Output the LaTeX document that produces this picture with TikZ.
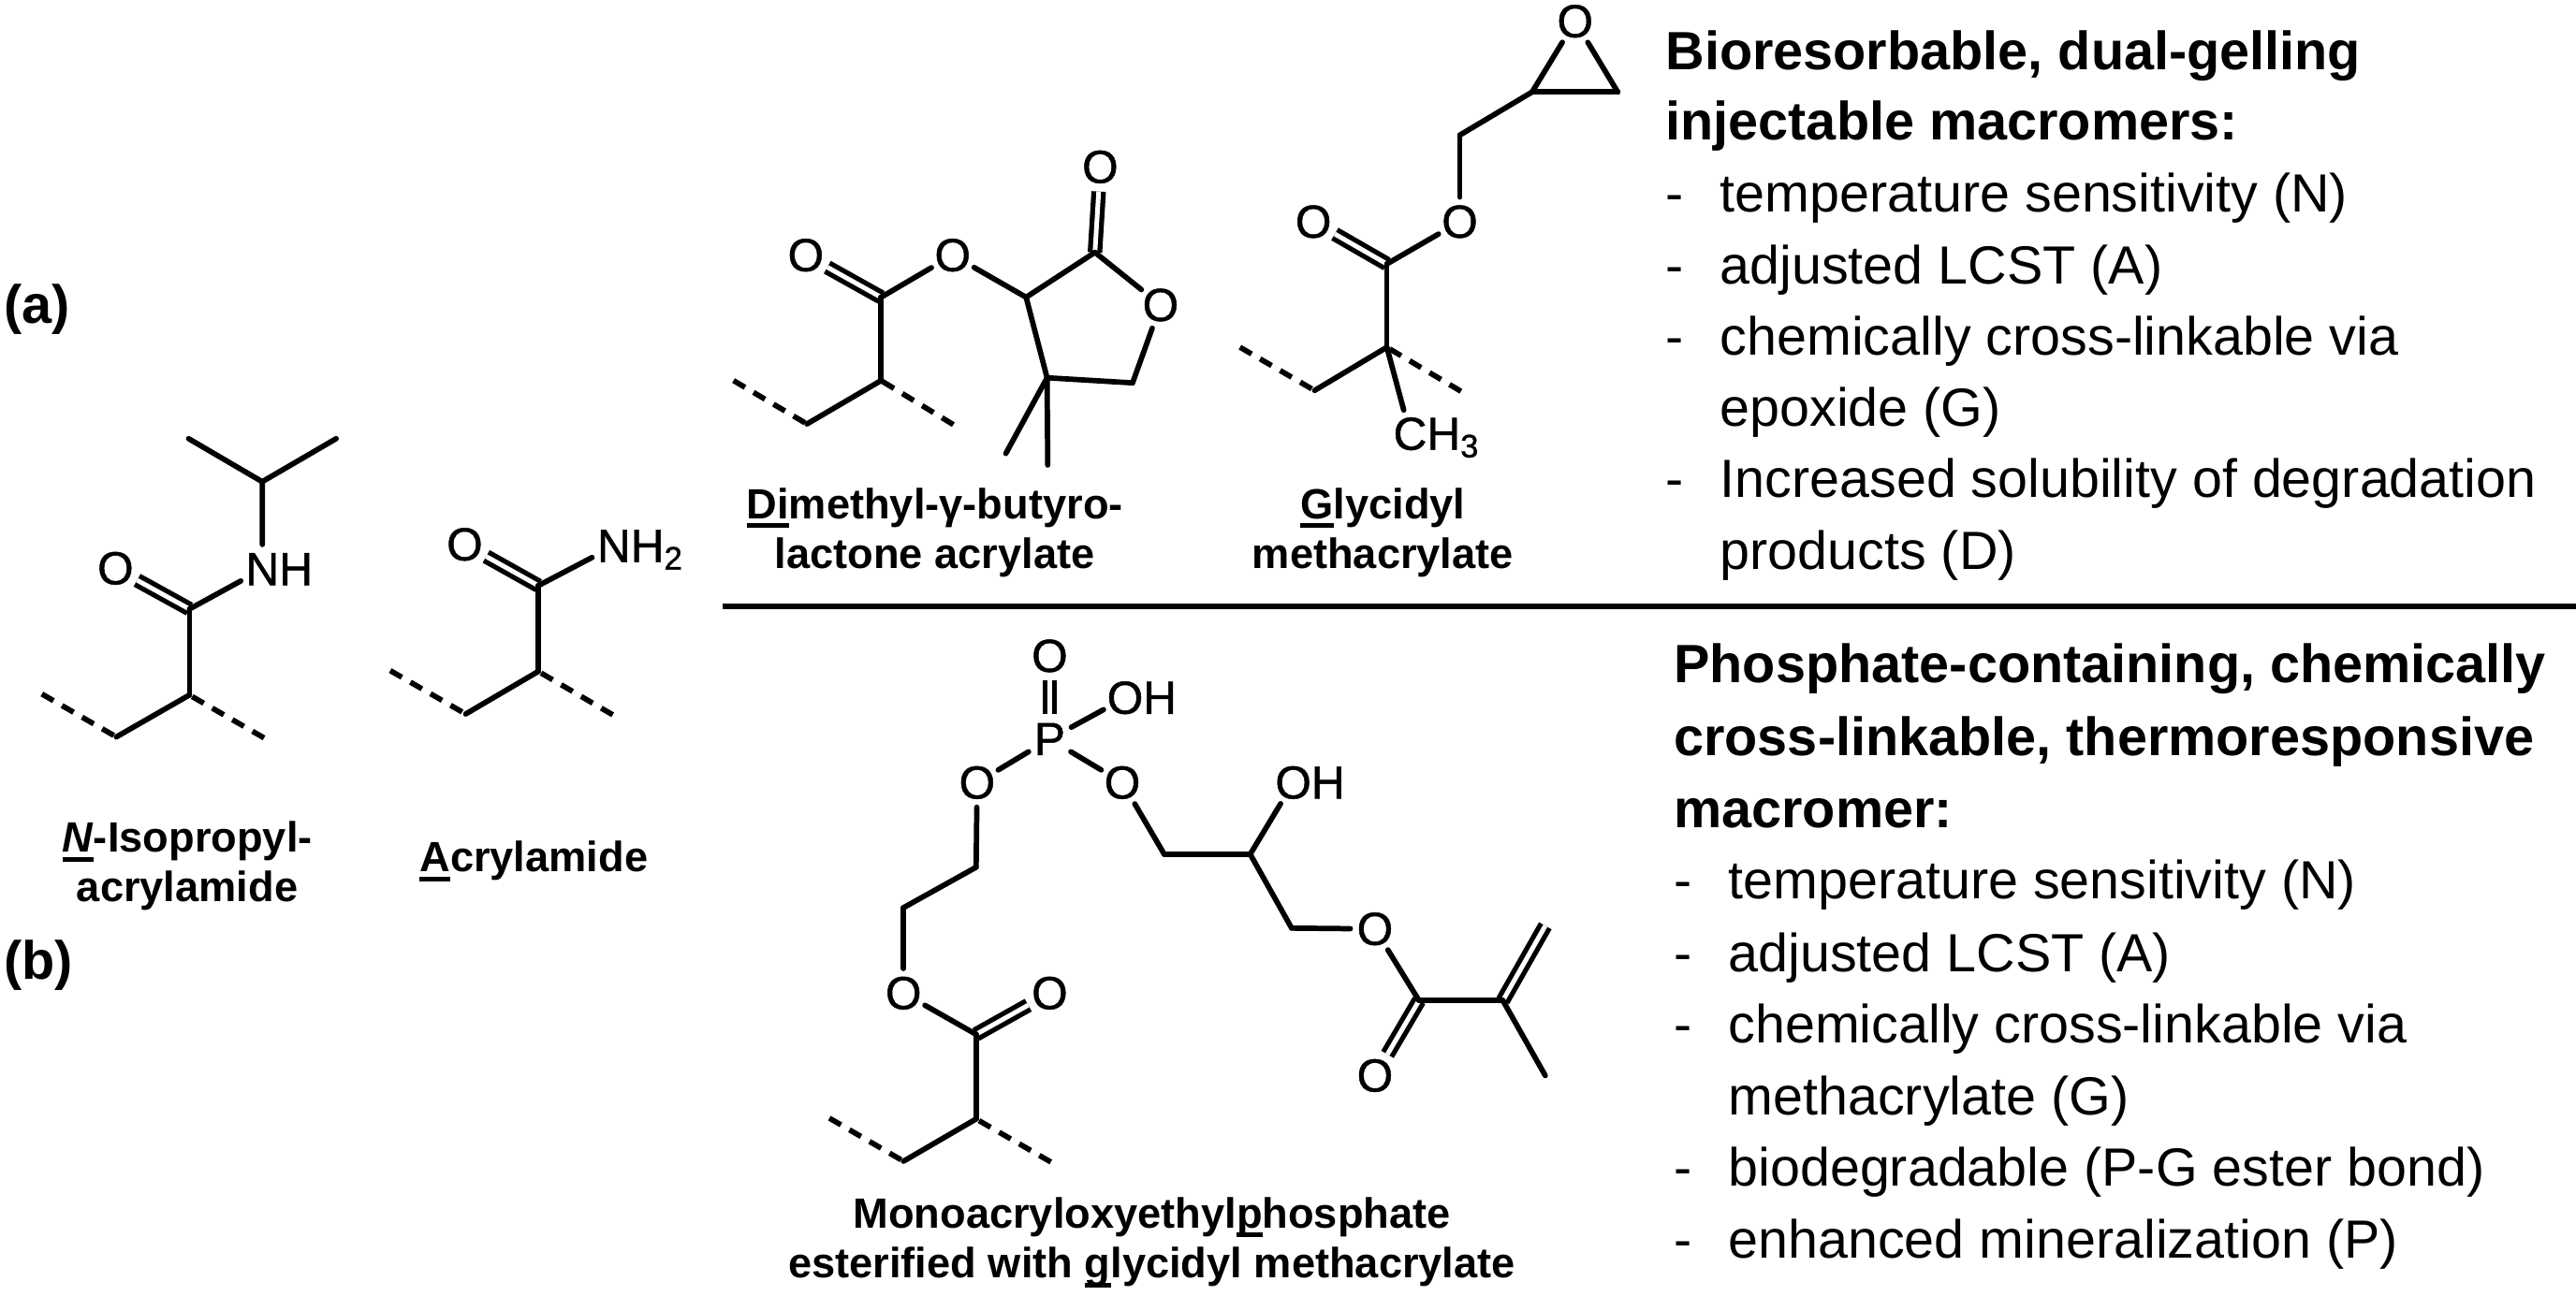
\documentclass[tikz,border=0pt]{standalone}
\usepackage{fontspec}
\setmainfont{Liberation Sans}
\newfontfamily\atomfont[FakeBold=1]{Liberation Sans}
\usetikzlibrary{positioning}
\newsavebox\capbox
\newcommand{\capline}[1]{\sbox\capbox{#1}\rlap{\rule[-3.2pt]{\wd\capbox}{1.6pt}}\usebox\capbox}
\tikzset{
 atom/.style={circle, inner sep=0, outer sep=0, minimum size=17pt, font=\atomfont\fontsize{16}{18}\selectfont},
 atomtail/.style={anchor=base west, inner sep=0, outer sep=0, font=\atomfont\fontsize{16}{18}\selectfont},
 bond/.style={line width=1.85pt, line cap=round},
 dblbond/.style={line width=1.7pt, double, double distance=1.6pt},
 dashbond/.style={line width=1.85pt, dash pattern=on 4.6pt off 3.4pt},
 caption/.style={align=center, inner sep=0, font=\bfseries\fontsize{14.6}{17.2}\selectfont},
 heading/.style={anchor=base west, inner sep=0, font=\bfseries\fontsize{18.6}{21}\selectfont},
 listline/.style={anchor=base west, inner sep=0, font=\fontsize{18.55}{21}\selectfont}
}
\begin{document}
\begin{tikzpicture}[x=.02cm, y=-.02cm]
\useasboundingbox (0,0) rectangle (1561,785.1);
\foreach \p/\x/\y in {
 nm1/114.3/265.9, nm2/203.7/265.9, nch/158.9/292, nc/114.8/369.2, nb/114.8/421.3, nd/70.5/446.7, ne1/25.4/420.7, ne2/160/447.3,
 ac/326.2/355, ab/326.2/407, ad/282.2/432.8, ae1/236.5/406.5, ae2/371.3/433.3,
 dc/533.9/180.2, db/533.9/230.7, dd/489/257, de1/444.5/230.7, de2/577.7/257.4, dr1/621.8/180.2, dr2/663.5/153, dr3/686.3/232.1, dr4/634.5/229, dm1/609.5/274.9, dm2/634.9/281.9,
 gc/840.4/160, gb/840.4/210.5, gd/796.6/236.7, ge1/751.4/210.5, ge2/885.3/237.2, gs/884.6/81.9, gx1/928.4/55.8, gx2/980.3/55.8,
 pa/591.5/525.7, pf/547.5/550.2, pc/591.5/627, pb/591.5/678.3, pd/547.5/703.9, pe1/502.6/677.8, pe2/636.8/704.4, pg1/705.5/517.8, pg2/757.6/517.8, pg3/782.7/562.6, pm/859.9/606.5, pv/910.7/606.5, pv1/936.4/561.2, pv2/936.4/652}
 {\coordinate (\p) at (\x,\y);}
\foreach \p/\x/\y/\t in {
 nn/159/345/N, no/70/344.5/O, an/372/331/N, ao/281.6/330/O,
 do1/488.3/154.7/O, do2/577.3/154.7/O, do3/666.7/101.2/O, do4/703.3/184.9/O,
 go1/795.9/134.4/O, go2/884.6/134.4/O, go3/954.5/12.9/O, gm/854.5/263/C,
 po1/636.1/397.6/O, pp/636.1/448/P, po2/681.8/423/O, po3/592.1/474.4/O, po4/680.1/474.4/O, po5/547.5/602/O, po6/636.1/602/O, po7/783.7/474.4/O, po8/833.2/563.1/O, po9/833.2/652/O}
 {\node[atom] (\p) at (\x,\y) {\t};}
\node[atomtail] (nh) at ([xshift=5.8pt]nn.base) {H};
\node[atomtail] (ah) at ([xshift=5.8pt]an.base) {H\textsubscript{2}};
\node[atomtail] (gh) at ([xshift=5.8pt]gm.base) {H\textsubscript{3}};
\node[atomtail] (ph1) at ([xshift=6.2pt]po2.base) {H};
\node[atomtail] (ph2) at ([xshift=6.2pt]po7.base) {H};
\foreach \a/\b in {nc/no, ac/ao, dc/do1, dr2/do3, gc/go1, pp/po1, pc/po6, pm/po9, pv/pv1}
 \draw[dblbond] (\a)--(\b);
\foreach \a/\b in {
 nm1/nch, nm2/nch, nch/nn, nn/nc, nc/nb, nb/nd,
 an/ac, ac/ab, ab/ad,
 dc/db, db/dd, dc/do2, do2/dr1, dr1/dr2, dr2/do4, do4/dr3, dr3/dr4, dr4/dr1, dr4/dm1, dr4/dm2,
 gc/gb, gb/gd, gb/gm, gc/go2, go2/gs, gs/gx1, gx1/gx2, gx1/go3, gx2/go3,
 pp/po2, pp/po3, pp/po4, po3/pa, pa/pf, pf/po5, po5/pc, pc/pb, pb/pd,
 po4/pg1, pg1/pg2, pg2/po7, pg2/pg3, pg3/po8, po8/pm, pm/pv, pv/pv2}
 \draw[bond] (\a)--(\b);
\foreach \a/\b in {ne1/nd, ne2/nb, ae1/ad, ae2/ab, de1/dd, de2/db, ge1/gd, ge2/gb, pe1/pd, pe2/pb}
 \draw[dashbond] (\a)--(\b);
\node[heading] (la) at (2,196) {(a)};
\node[heading] (lb) at (2,593.5) {(b)};
\node[caption] (cn) at (113.5,525) {\capline{\textit{N}}-Isopropyl-\\acrylamide};
\node[caption] (ca) at (323.5,522) {\capline{A}crylamide};
\node[caption] (cd) at (566.5,323) {\capline{Di}methyl-γ-butyro-\\lactone acrylate};
\node[caption] (cg) at (838,323) {\capline{G}lycidyl\\methacrylate};
\node[caption] (cp) at (698,753) {Monoacryloxyethyl\capline{p}hosphate\\esterified with \capline{g}lycidyl methacrylate};
\draw[line width=2pt] (438,367.5)--(1561,367.5);
\foreach \n/\y/\t in {1/42/{Bioresorbable, dual-gelling}, 2/85/{injectable macromers:}}
 \node[heading] (ta\n) at (1009,\y) {\t};
\foreach \n/\y/\t in {3/128.6/{temperature sensitivity (N)}, 4/172/{adjusted LCST (A)}, 5/215/{chemically cross-linkable via}, 7/301.7/{Increased solubility of degradation}}{
 \node[listline] (da\n) at (1009,\y) {-};
 \node[listline] (ta\n) at (1042,\y) {\t};
}
\node[listline] (ta6) at (1042,258.4) {epoxide (G)};
\node[listline] (ta8) at (1042,345) {products (D)};
\foreach \n/\y/\t in {1/414/{Phosphate-containing, chemically}, 2/458/{cross-linkable, thermoresponsive}, 3/501.5/{macromer:}}
 \node[heading] (tb\n) at (1014,\y) {\t};
\foreach \n/\y/\t in {4/545/{temperature sensitivity (N)}, 5/589/{adjusted LCST (A)}, 6/632/{chemically cross-linkable via}, 8/719/{biodegradable (P-G ester bond)}, 9/762.6/{enhanced mineralization (P)}}{
 \node[listline] (db\n) at (1014,\y) {-};
 \node[listline] (tb\n) at (1047,\y) {\t};
}
\node[listline] (tb7) at (1047,675.7) {methacrylate (G)};
\end{tikzpicture}
\end{document}
